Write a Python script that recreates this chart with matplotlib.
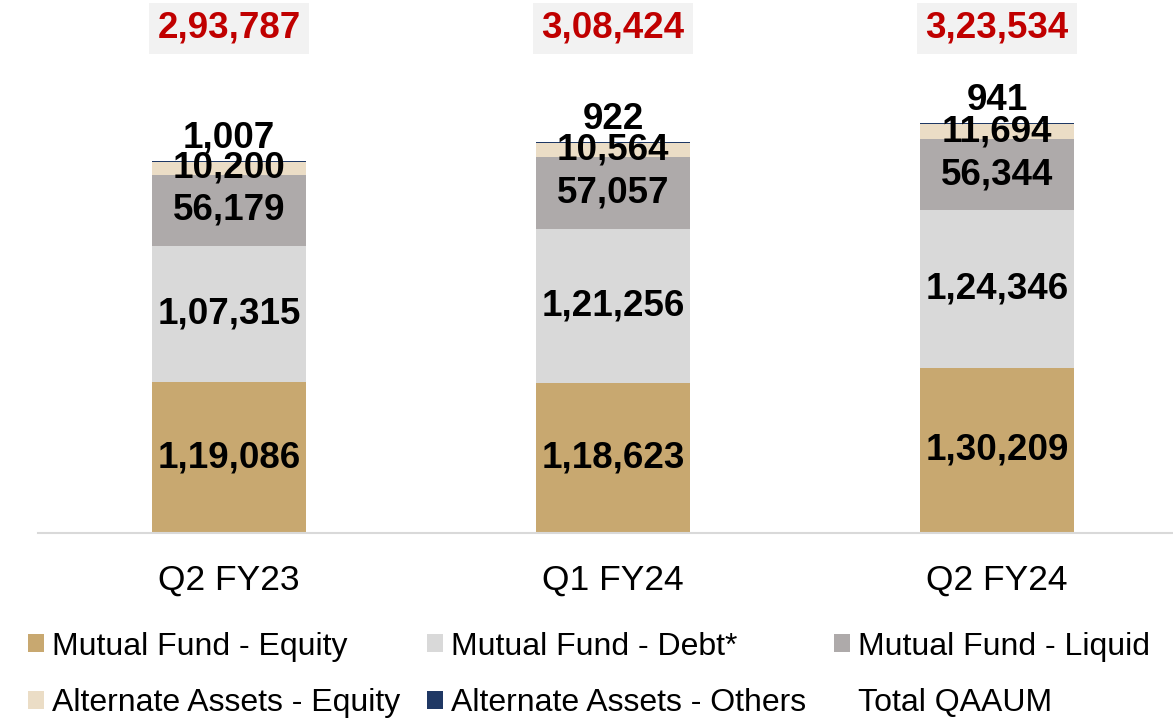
import numpy as np
import matplotlib.pyplot as plt
from matplotlib.patches import Patch
from matplotlib.transforms import blended_transform_factory

plt.rcParams['font.family'] = ['Liberation Sans', 'DejaVu Sans']

categories = ['Q2 FY23', 'Q1 FY24', 'Q2 FY24']
mf_equity = [119086, 118623, 130209]
mf_debt = [107315, 121256, 124346]
mf_liquid = [56179, 57057, 56344]
alt_equity = [10200, 10564, 11694]
alt_others = [1007, 922, 941]
totals = [293787, 308424, 323534]

series_names = ['Mutual Fund - Equity', 'Mutual Fund - Debt*', 'Mutual Fund - Liquid',
                'Alternate Assets - Equity', 'Alternate Assets - Others']
series_vals = [mf_equity, mf_debt, mf_liquid, alt_equity, alt_others]
colors = ['#C8A870', '#D9D9D9', '#AEAAAA', '#EBDDC6', '#1F3864']


def inr(n):
    # indian digit grouping: 2,93,787
    s = str(int(n))
    if len(s) <= 3:
        return s
    head, tail = s[:-3], s[-3:]
    parts = []
    while len(head) > 2:
        parts.insert(0, head[-2:])
        head = head[:-2]
    if head:
        parts.insert(0, head)
    return ','.join(parts) + ',' + tail


fig = plt.figure(figsize=(11.73, 7.21), dpi=100)
ax = fig.add_axes([38/1173, 188/721, 1 - 38/1173, 533/721])

x = np.arange(len(categories))
width = 0.40
bottom = np.zeros(len(categories))
handles = []
for name, vals, col in zip(series_names, series_vals, colors):
    vals = np.array(vals, dtype=float)
    ax.bar(x, vals, width, bottom=bottom, color=col, linewidth=0)
    handles.append(Patch(facecolor=col, edgecolor='none', label=name))
    for xi, b, v in zip(x, bottom, vals):
        if name == 'Alternate Assets - Others':
            ax.annotate(inr(v), (xi, b + v), xytext=(0, 16), textcoords='offset points',
                        ha='center', va='center', fontsize=26.5, fontweight='bold', color='black')
        else:
            ax.text(xi, b + v / 2, inr(v), ha='center', va='center',
                    fontsize=26.5, fontweight='bold', color='black')
    bottom += vals

trans = blended_transform_factory(ax.transData, ax.transAxes)
for xi, t in zip(x, totals):
    ax.text(xi, 0.947, inr(t), transform=trans, ha='center', va='center',
            fontsize=26.5, fontweight='bold', color='#C00000',
            bbox=dict(boxstyle='square,pad=0.22', facecolor='#F2F2F2', edgecolor='none'))

ax.set_xlim(-0.497, 2.458)
ax.set_ylim(0, 420500)
ax.set_xticks(x)
ax.set_xticklabels(categories, fontsize=25.5)
ax.tick_params(axis='x', length=0, pad=22)
ax.set_yticks([])
for s in ['top', 'right', 'left']:
    ax.spines[s].set_visible(False)
ax.spines['bottom'].set_color('#D9D9D9')
ax.spines['bottom'].set_linewidth(1.5)

handles.append(Patch(facecolor='none', edgecolor='none', label='Total QAAUM'))
# legend fills column-wise, reorder to get the row layout
order = [0, 3, 1, 4, 2, 5]
fig.legend([handles[i] for i in order], [handles[i].get_label() for i in order],
           loc='upper left', bbox_to_anchor=(28/1173, 0.124), ncol=3, frameon=False,
           fontsize=23, handlelength=0.5, handleheight=0.5, handletextpad=0.25,
           columnspacing=0.85, labelspacing=0.84, borderaxespad=0, borderpad=0)

fig.savefig('out.png', dpi=100)
